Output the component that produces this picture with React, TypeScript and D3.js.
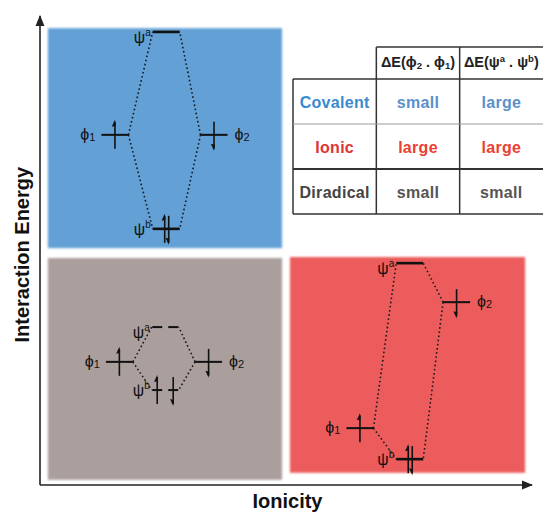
import React from "react";
import * as d3 from "d3";

// ---------- data ----------
// Panels (regions in ionicity / interaction-energy space, data units 0-100)
const panelNames = ["Covalent", "Diradical", "Ionic"];
const panelIonicityFrom = [1.6, 1.6, 50.7];
const panelIonicityTo = [49.1, 49.1, 98.4];
const panelEnergyFrom = [50.4, 1.1, 2.6];
const panelEnergyTo = [97.2, 48.3, 48.5];
const panelColors = ["#62a0d6", "#ab9f9e", "#ec5b5b"];

// Orbitals in each panel: φ1, ψa, φ2, ψb
const orbitalSymbols = ["ϕ", "ψ", "ϕ", "ψ"];
const orbitalIndices = ["1", "a", "2", "b"];
const covalentIonicity = [15.2, 25.6, 35.3, 25.6];
const covalentEnergy = [74.5, 96.4, 74.5, 54.5];
const covalentSpins = ["up", "none", "down", "pair"];
const diradicalIonicity = [16.1, 25.4, 34.2, 25.4];
const diradicalEnergy = [26.2, 33.6, 26.2, 20.2];
const diradicalSpins = ["up", "none", "down", "split"];
const ionicIonicity = [64.9, 75.0, 84.5, 75.0];
const ionicEnergy = [12.1, 47.2, 38.9, 5.5];
const ionicSpins = ["up", "none", "down", "pair"];

// correlation lines: [from orbital, to orbital]
const correlations = [
  [0, 1],
  [0, 3],
  [2, 1],
  [2, 3],
];

// Table
const tableRows = ["Covalent", "Ionic", "Diradical"];
const deltaPhi = ["small", "large", "small"];
const deltaPsi = ["large", "large", "small"];
const tableColumns = ["type", "dphi", "dpsi"];

const xTitle = "Ionicity";
const yTitle = "Interaction Energy";

// ---------- layout / style ----------
const W = 543;
const H = 512;
const FONT = "'Liberation Sans', Arial, Helvetica, sans-serif";
const LEVEL_HALF = 13.5;
const rowColors = ["#3a8ad0", "#e03434", "#444444"];
const cellColors = ["#5a90cc", "#ec4032", "#555555"];

const x = d3.scaleLinear().domain([0, 100]).range([40, 533]);
const y = d3.scaleLinear().domain([0, 100]).range([485, 15]);

const colScale = d3.scaleBand<string>().domain(tableColumns).range([293, 543]);
const rowScale = d3.scaleBand<string>().domain(tableRows).range([79, 214]);

const panelOrbitals = [
  { ion: covalentIonicity, en: covalentEnergy, spins: covalentSpins, dashedPsi: false },
  { ion: diradicalIonicity, en: diradicalEnergy, spins: diradicalSpins, dashedPsi: true },
  { ion: ionicIonicity, en: ionicEnergy, spins: ionicSpins, dashedPsi: false },
];

function Electron({ cx, cy, dir }: { cx: number; cy: number; dir: "up" | "down" }) {
  const top = cy - 13;
  const bot = cy + 14;
  const head =
    dir === "up"
      ? `M${cx},${top - 2} L${cx - 3.2},${top + 5} L${cx + 0.8},${top + 4} Z`
      : `M${cx},${bot + 2} L${cx - 3.2},${bot - 5} L${cx + 0.8},${bot - 4} Z`;
  return (
    <g>
      <line x1={cx} x2={cx} y1={top} y2={bot} stroke="#111" strokeWidth={1.6} />
      <path d={head} fill="#111" />
    </g>
  );
}

export default function App() {
  return (
    <div style={{ position: "absolute", left: 0, top: 0 }}>
      <svg width={W} height={H} style={{ display: "block", background: "#fff" }} fontFamily={FONT}>
        <defs>
          <filter id="soft" x="-5%" y="-5%" width="110%" height="110%">
            <feGaussianBlur stdDeviation={1.3} />
          </filter>
          <marker id="arr" viewBox="0 0 10 10" refX={9} refY={5} markerWidth={7} markerHeight={7} orient="auto">
            <path d="M0,1 L10,5 L0,9 Z" fill="#222" />
          </marker>
        </defs>

        {/* panels */}
        {panelNames.map((p, i) => (
          <rect
            key={p}
            x={x(panelIonicityFrom[i])}
            y={y(panelEnergyTo[i])}
            width={x(panelIonicityTo[i]) - x(panelIonicityFrom[i])}
            height={y(panelEnergyFrom[i]) - y(panelEnergyTo[i])}
            fill={panelColors[i]}
            filter="url(#soft)"
          />
        ))}

        {/* axes */}
        <line x1={x(0)} y1={y(0)} x2={x(0)} y2={y(100) + 1} stroke="#222" strokeWidth={1.6} markerEnd="url(#arr)" />
        <line x1={x(0)} y1={y(0)} x2={x(100) - 1} y2={y(0)} stroke="#222" strokeWidth={1.6} markerEnd="url(#arr)" />
        <text
          transform={`translate(29, ${y(49)}) rotate(-90)`}
          textAnchor="middle"
          fontSize={20}
          fontWeight="bold"
          fill="#111"
        >
          {yTitle}
        </text>
        <text x={x(50.2)} y={508} textAnchor="middle" fontSize={20} fontWeight="bold" fill="#111">
          {xTitle}
        </text>

        {/* MO diagrams */}
        {panelOrbitals.map((po, pi) => {
          const pts = po.ion.map((v, k) => ({ cx: x(v), cy: y(po.en[k]) }));
          return (
            <g key={pi}>
              {correlations.map(([a, b], k) => {
                const phi = pts[a];
                const psi = pts[b];
                const leftSide = a === 0;
                const x1 = leftSide ? phi.cx + LEVEL_HALF : phi.cx - LEVEL_HALF;
                const x2 = leftSide ? psi.cx - LEVEL_HALF : psi.cx + LEVEL_HALF;
                return (
                  <line
                    key={k}
                    x1={x1}
                    y1={phi.cy}
                    x2={x2}
                    y2={psi.cy}
                    stroke="#1a1a1a"
                    strokeWidth={1.6}
                    strokeDasharray="1.6 2.6"
                  />
                );
              })}
              {pts.map((p, k) => {
                const isPsi = orbitalSymbols[k] === "ψ";
                const dashed = isPsi && po.dashedPsi;
                const spin = po.spins[k];
                return (
                  <g key={k}>
                    {dashed ? (
                      <g>
                        <line x1={p.cx - 13} x2={p.cx - 3} y1={p.cy} y2={p.cy} stroke="#111" strokeWidth={2} />
                        <line x1={p.cx + 3} x2={p.cx + 13} y1={p.cy} y2={p.cy} stroke="#111" strokeWidth={2} />
                      </g>
                    ) : (
                      <line
                        x1={p.cx - LEVEL_HALF}
                        x2={p.cx + LEVEL_HALF}
                        y1={p.cy}
                        y2={p.cy}
                        stroke="#111"
                        strokeWidth={isPsi ? 2.6 : 2}
                      />
                    )}
                    {spin === "up" && <Electron cx={p.cx} cy={p.cy} dir="up" />}
                    {spin === "down" && <Electron cx={p.cx} cy={p.cy} dir="down" />}
                    {spin === "pair" && (
                      <g>
                        <Electron cx={p.cx - 1.5} cy={p.cy} dir="up" />
                        <Electron cx={p.cx + 2.5} cy={p.cy} dir="down" />
                      </g>
                    )}
                    {spin === "split" && (
                      <g>
                        <Electron cx={p.cx - 8} cy={p.cy} dir="up" />
                        <Electron cx={p.cx + 8} cy={p.cy} dir="down" />
                      </g>
                    )}
                    {isPsi ? (
                      <text
                        x={p.cx - LEVEL_HALF - 2}
                        y={p.cy + (orbitalIndices[k] === "a" ? 11 : 6)}
                        textAnchor="end"
                        fontSize={16}
                        fill="#111"
                      >
                        {orbitalSymbols[k]}
                        <tspan fontSize={10} dy={-7}>
                          {orbitalIndices[k]}
                        </tspan>
                      </text>
                    ) : (
                      <text
                        x={orbitalIndices[k] === "1" ? p.cx - LEVEL_HALF - 6 : p.cx + LEVEL_HALF + 7}
                        y={p.cy + 5}
                        textAnchor={orbitalIndices[k] === "1" ? "end" : "start"}
                        fontSize={16}
                        fill="#111"
                      >
                        {orbitalSymbols[k]}
                        <tspan fontSize={11} dy={1}>
                          {orbitalIndices[k]}
                        </tspan>
                      </text>
                    )}
                  </g>
                );
              })}
            </g>
          );
        })}

        {/* table */}
        <g>
          {(() => {
            const c1 = colScale("dphi")!;
            const c2 = colScale("dpsi")!;
            const left = colScale("type")!;
            const right = W;
            const top = 47;
            const rTop = rowScale.range()[0];
            const rBot = rowScale.range()[1];
            const stroke = "#333";
            return (
              <g>
                <line x1={c1} x2={right} y1={top} y2={top} stroke={stroke} strokeWidth={1.5} />
                <line x1={c1} x2={c1} y1={top} y2={rBot} stroke={stroke} strokeWidth={1.5} />
                <line x1={c2} x2={c2} y1={top} y2={rBot} stroke={stroke} strokeWidth={1.5} />
                <line x1={left} x2={left} y1={rTop} y2={rBot} stroke={stroke} strokeWidth={1.5} />
                <line x1={left} x2={right} y1={rTop} y2={rTop} stroke={stroke} strokeWidth={1.5} />
                <line
                  x1={left}
                  x2={right}
                  y1={rowScale("Ionic")!}
                  y2={rowScale("Ionic")!}
                  stroke="#9a9a9a"
                  strokeWidth={1}
                />
                <line
                  x1={left}
                  x2={right}
                  y1={rowScale("Diradical")!}
                  y2={rowScale("Diradical")!}
                  stroke={stroke}
                  strokeWidth={2}
                />
                <line x1={left} x2={right} y1={rBot} y2={rBot} stroke={stroke} strokeWidth={1.5} />
                {/* header */}
                <text
                  x={c1 + colScale.bandwidth() / 2}
                  y={top + 20}
                  textAnchor="middle"
                  fontSize={14.5}
                  fontWeight="bold"
                  fill="#222"
                >
                  ΔE(ϕ<tspan fontSize={9.5} dy={2}>2</tspan>
                  <tspan dy={-2}> . ϕ</tspan>
                  <tspan fontSize={9.5} dy={2}>1</tspan>
                  <tspan dy={-2}>)</tspan>
                </text>
                <text
                  x={c2 + colScale.bandwidth() / 2}
                  y={top + 20}
                  textAnchor="middle"
                  fontSize={14.5}
                  fontWeight="bold"
                  fill="#222"
                >
                  ΔE(ψ<tspan fontSize={9.5} dy={-5}>a</tspan>
                  <tspan dy={5}> . ψ</tspan>
                  <tspan fontSize={9.5} dy={-5}>b</tspan>
                  <tspan dy={5}>)</tspan>
                </text>
                {tableRows.map((r, i) => {
                  const cy = rowScale(r)! + rowScale.bandwidth() / 2 + 6;
                  return (
                    <g key={r} fontWeight="bold" fontSize={16}>
                      <text x={left + colScale.bandwidth() / 2} y={cy} textAnchor="middle" fill={rowColors[i]} letterSpacing={0.3}>
                        {r}
                      </text>
                      <text x={c1 + colScale.bandwidth() / 2} y={cy} textAnchor="middle" fill={cellColors[i]} letterSpacing={0.3}>
                        {deltaPhi[i]}
                      </text>
                      <text x={c2 + colScale.bandwidth() / 2} y={cy} textAnchor="middle" fill={cellColors[i]} letterSpacing={0.3}>
                        {deltaPsi[i]}
                      </text>
                    </g>
                  );
                })}
              </g>
            );
          })()}
        </g>
      </svg>
    </div>
  );
}
